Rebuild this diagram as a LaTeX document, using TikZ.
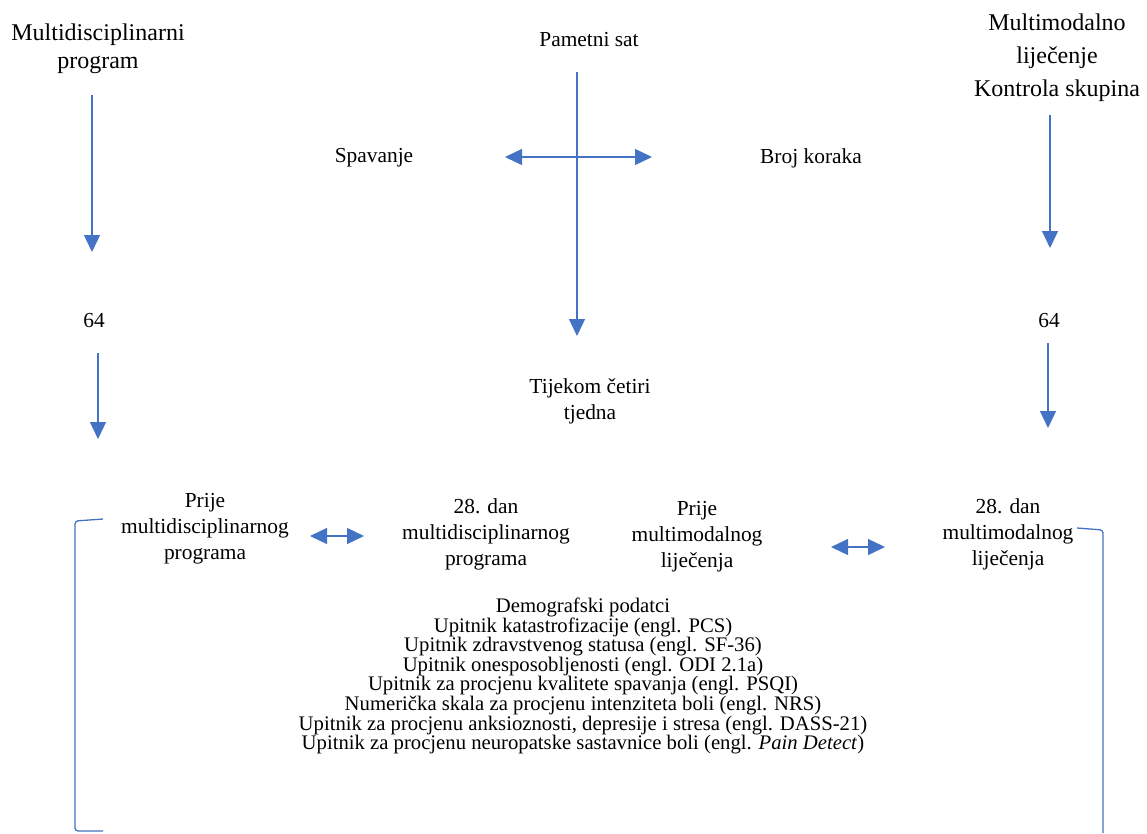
\documentclass[tikz,border=0pt]{standalone}
\usepackage{fontspec}
\setmainfont{Liberation Serif}
\usetikzlibrary{arrows.meta}
\definecolor{arrblue}{HTML}{4472C4}
\tikzset{
  arr/.style={draw=arrblue, line width=1.3pt, -{Triangle[length=17pt,width=16pt]}},
  darr/.style={draw=arrblue, line width=1.3pt, {Triangle[length=17pt,width=16pt]}-{Triangle[length=17pt,width=16pt]}},
  brk/.style={draw=arrblue, line width=1.3pt, rounded corners=3pt},
  big/.style={align=center, inner sep=0pt, font=\fontsize{24}{28}\selectfont},
  bigr/.style={align=center, inner sep=0pt, font=\fontsize{24}{33}\selectfont},
  mid/.style={align=center, inner sep=0pt, font=\fontsize{21.4}{26}\selectfont},
  lst/.style={align=center, inner sep=0pt, font=\fontsize{20.7}{19.6}\selectfont},
}
\begin{document}
\begin{tikzpicture}[x=1pt,y=-1pt]
\useasboundingbox (0,0) rectangle (1147,833);
% top labels
\node[big] (mdp) at (98,49) {Multidisciplinarni\\program};
\node[bigr] (mml) at (1057,58) {Multimodalno\\liječenje\\Kontrola skupina};
\node[mid] (sat) at (589,40) {Pametni sat};
\node[mid] (spav) at (374,158) {Spavanje};
\node[mid] (koraci) at (811,158) {Broj koraka};
\node[mid] (nl) at (94,321) {64};
\node[mid] (nr) at (1049,321) {64};
\node[mid] (tijek) at (590,401) {Tijekom četiri\\tjedna};
% bottom row
\node[mid] (p1) at (205,529) {Prije\\multidisciplinarnog\\programa};
\node[mid] (p2) at (486,534) {28. dan\\multidisciplinarnog\\programa};
\node[mid] (p3) at (697,537) {Prije\\multimodalnog\\liječenja};
\node[mid] (p4) at (1008,534) {28. dan\\multimodalnog\\liječenja};
% list
\node[lst] (list) at (583,676) {Demografski podatci\\
Upitnik katastrofizacije (engl. PCS)\\
Upitnik zdravstvenog statusa (engl. SF-36)\\
Upitnik onesposobljenosti (engl. ODI 2.1a)\\
Upitnik za procjenu kvalitete spavanja (engl. PSQI)\\
Numerička skala za procjenu intenziteta boli (engl. NRS)\\
Upitnik za procjenu anksioznosti, depresije i stresa (engl. DASS-21)\\
Upitnik za procjenu neuropatske sastavnice boli (engl. \textit{Pain Detect})};
% coordinates for connector ends
\coordinate (a1s) at (92,95);   \coordinate (a1e) at (92,252);
\coordinate (a2s) at (98,353);  \coordinate (a2e) at (98,439);
\coordinate (cvs) at (577,72);  \coordinate (cve) at (577,336);
\coordinate (chl) at (505,157); \coordinate (chr) at (652,157);
\coordinate (a5s) at (1050,115); \coordinate (a5e) at (1050,248);
\coordinate (a6s) at (1048,343); \coordinate (a6e) at (1048,428);
\coordinate (b1l) at (310,536); \coordinate (b1r) at (364,536);
\coordinate (b2l) at (831,547); \coordinate (b2r) at (885,547);
% arrows
\draw[arr] (a1s) -- (a1e);
\draw[arr] (a2s) -- (a2e);
\draw[arr] (cvs) -- (cve);
\draw[darr] (chl) -- (chr);
\draw[arr] (a5s) -- (a5e);
\draw[arr] (a6s) -- (a6e);
\draw[darr] (b1l) -- (b1r);
\draw[darr] (b2l) -- (b2r);
% brackets
\coordinate (lb1) at (103,519); \coordinate (lb2) at (75,521);
\coordinate (lb3) at (75,831);  \coordinate (lb4) at (103,831);
\coordinate (rb1) at (1077,528); \coordinate (rb2) at (1103,530);
\coordinate (rb3) at (1103,833);
\draw[brk] (lb1) -- (lb2) -- (lb3) -- (lb4);
\draw[brk] (rb1) -- (rb2) -- (rb3);
\end{tikzpicture}
\end{document}
